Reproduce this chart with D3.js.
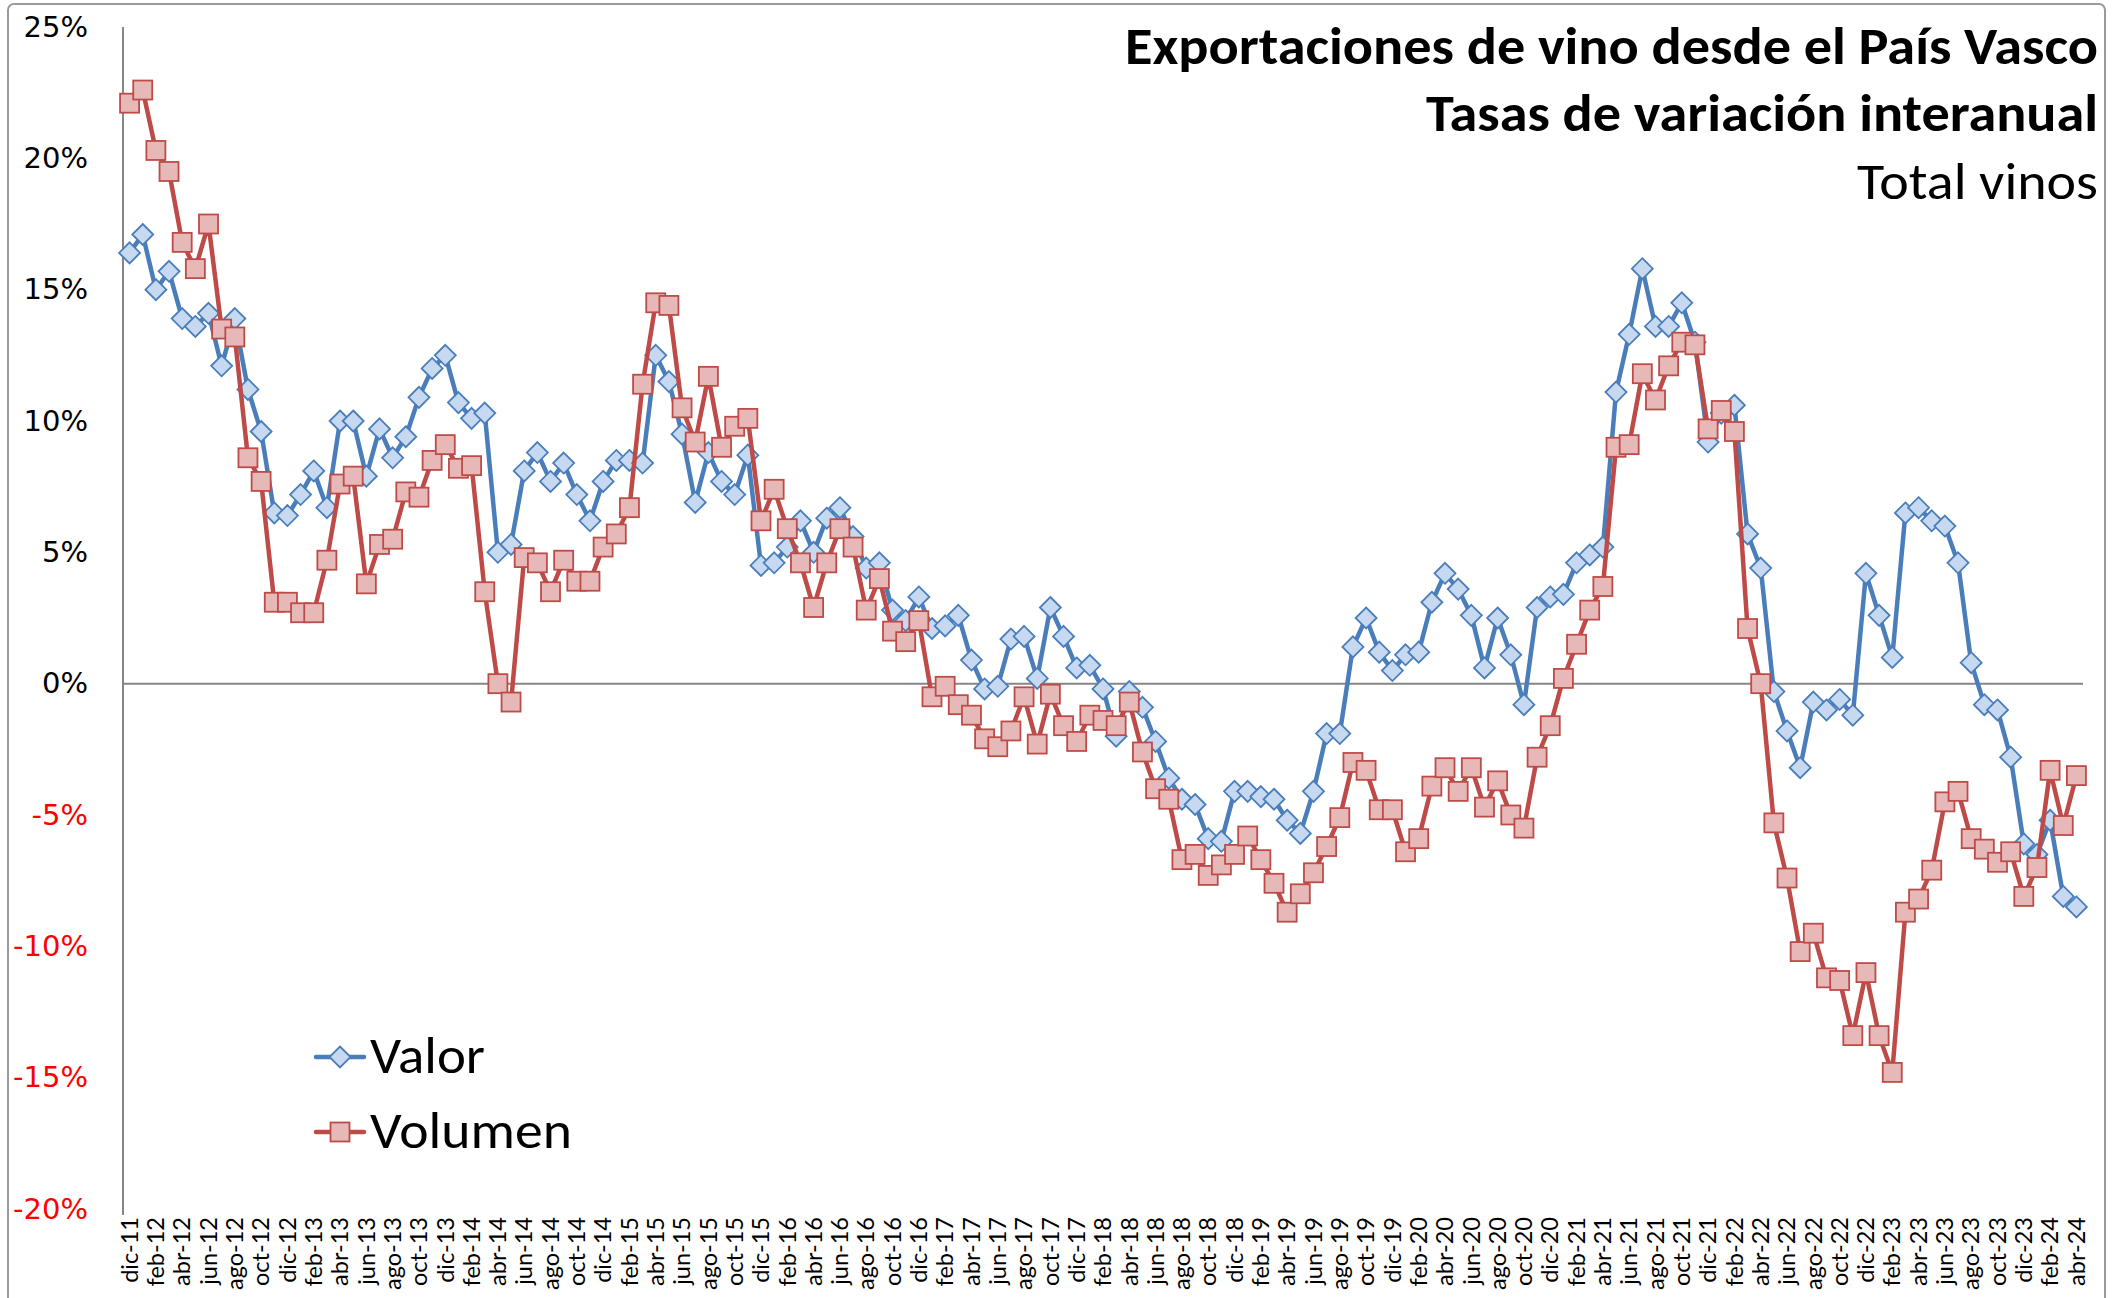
<!DOCTYPE html>
<html>
<head>
<meta charset="utf-8">
<script src="https://cdn.jsdelivr.net/npm/d3@7"></script>
<style>
  body { margin: 0; background: #fff; }
  svg { display: block; }
</style>
</head>
<body>
<div id="chart"></div>
<script>
// meses (desde dic-11 hasta abr-24)
var mesesNombre = ["ene","feb","mar","abr","may","jun","jul","ago","sep","oct","nov","dic"];
var anioInicio = 2011, mesInicio = 11, nMeses = 149;

var yTicks = [-20, -15, -10, -5, 0, 5, 10, 15, 20, 25];

// tasas de variación interanual (%)
var valor = [
  16.4, 17.1, 15.0, 15.7, 13.9, 13.6, 14.1, 12.1, 13.9, 11.2, 9.6, 6.5,
  6.4, 7.2, 8.1, 6.7, 10.0, 10.0, 7.9, 9.7, 8.6, 9.4, 10.9, 12.0,
  12.5, 10.7, 10.1, 10.3, 5.0, 5.3, 8.1, 8.8, 7.7, 8.4, 7.2, 6.2,
  7.7, 8.5, 8.5, 8.4, 12.5, 11.5, 9.5, 6.9, 8.8, 7.7, 7.2, 8.7,
  4.5, 4.6, 5.2, 6.2, 5.0, 6.3, 6.7, 5.6, 4.4, 4.6, 2.8, 2.4,
  3.3, 2.1, 2.2, 2.6, 0.9, -0.2, -0.1, 1.7, 1.8, 0.2, 2.9, 1.8,
  0.6, 0.7, -0.2, -2.0, -0.3, -0.9, -2.2, -3.6, -4.4, -4.6, -5.9, -6.0,
  -4.1, -4.1, -4.3, -4.4, -5.2, -5.7, -4.1, -1.9, -1.9, 1.4, 2.5, 1.2,
  0.5, 1.1, 1.2, 3.1, 4.2, 3.6, 2.6, 0.6, 2.5, 1.1, -0.8, 2.9,
  3.3, 3.4, 4.6, 4.9, 5.2, 11.1, 13.3, 15.8, 13.6, 13.6, 14.5, 13.0,
  9.2, 10.3, 10.6, 5.7, 4.4, -0.3, -1.8, -3.2, -0.7, -1.0, -0.6, -1.2,
  4.2, 2.6, 1.0, 6.5, 6.7, 6.2, 6.0, 4.6, 0.8, -0.8, -1.0, -2.8,
  -6.1, -6.5, -5.2, -8.1, -8.5
];

var volumen = [
  22.1, 22.6, 20.3, 19.5, 16.8, 15.8, 17.5, 13.5, 13.2, 8.6, 7.7, 3.1,
  3.1, 2.7, 2.7, 4.7, 7.6, 7.9, 3.8, 5.3, 5.5, 7.3, 7.1, 8.5,
  9.1, 8.2, 8.3, 3.5, 0.0, -0.7, 4.8, 4.6, 3.5, 4.7, 3.9, 3.9,
  5.2, 5.7, 6.7, 11.4, 14.5, 14.4, 10.5, 9.2, 11.7, 9.0, 9.8, 10.1,
  6.2, 7.4, 5.9, 4.6, 2.9, 4.6, 5.9, 5.2, 2.8, 4.0, 2.0, 1.6,
  2.4, -0.5, -0.1, -0.8, -1.2, -2.1, -2.4, -1.8, -0.5, -2.3, -0.4, -1.6,
  -2.2, -1.2, -1.4, -1.6, -0.7, -2.6, -4.0, -4.4, -6.7, -6.5, -7.3, -6.9,
  -6.5, -5.8, -6.7, -7.6, -8.7, -8.0, -7.2, -6.2, -5.1, -3.0, -3.3, -4.8,
  -4.8, -6.4, -5.9, -3.9, -3.2, -4.1, -3.2, -4.7, -3.7, -5.0, -5.5, -2.8,
  -1.6, 0.2, 1.5, 2.8, 3.7, 9.0, 9.1, 11.8, 10.8, 12.1, 13.0, 12.9,
  9.7, 10.4, 9.6, 2.1, 0.0, -5.3, -7.4, -10.2, -9.5, -11.2, -11.3, -13.4,
  -11.0, -13.4, -14.8, -8.7, -8.2, -7.1, -4.5, -4.1, -5.9, -6.3, -6.8, -6.4,
  -8.1, -7.0, -3.3, -5.4, -3.5
];

var titulo = ["Exportaciones de vino desde el País Vasco", "Tasas de variación interanual", "Total vinos"];

// categorías tipo "dic-11"
var categorias = [];
for (var i = 0; i < nMeses; i++) {
  var m = (mesInicio + i) % 12;
  var a = anioInicio + Math.floor((mesInicio + i) / 12);
  categorias.push(mesesNombre[m] + "-" + String(a).slice(2));
}

var W = 2125, H = 1298;
var plot = {left: 123, right: 2083, top: 27, bottom: 1209};

var svg = d3.select("#chart").append("svg")
    .attr("width", W)
    .attr("height", H);

// marco del gráfico
svg.append("rect")
    .attr("x", 8).attr("y", 4)
    .attr("width", 2097).attr("height", 1320)
    .attr("rx", 6)
    .attr("fill", "#fff")
    .attr("stroke", "#9a9a9a")
    .attr("stroke-width", 2);

var x = d3.scaleBand()
    .domain(d3.range(nMeses))
    .range([plot.left, plot.right]);
var cx = function(i) { return x(i) + x.bandwidth() / 2; };

var y = d3.scaleLinear()
    .domain([-20, 25])
    .range([plot.bottom, plot.top]);

// eje Y
var yAxis = svg.append("g")
    .attr("transform", "translate(" + plot.left + ",0)")
    .call(d3.axisLeft(y).tickValues(yTicks).tickSize(0).tickPadding(35)
      .tickFormat(function(d) { return d + "%"; }));
yAxis.select(".domain").remove();
yAxis.selectAll("text")
    .attr("font-family", "'DejaVu Sans', Verdana, sans-serif")
    .attr("font-size", 29)
    .attr("fill", function(d) { return d < 0 ? "#ff0000" : "#000"; });

svg.append("line")
    .attr("x1", plot.left).attr("x2", plot.left)
    .attr("y1", plot.top).attr("y2", plot.bottom + 6)
    .attr("stroke", "#868686").attr("stroke-width", 2);

// linea del cero
svg.append("line")
    .attr("x1", plot.left).attr("x2", plot.right)
    .attr("y1", y(0)).attr("y2", y(0))
    .attr("stroke", "#868686").attr("stroke-width", 2);

// eje X (etiquetas cada dos meses)
var xAxis = svg.append("g")
    .attr("transform", "translate(0," + plot.bottom + ")")
    .call(d3.axisBottom(x)
      .tickValues(d3.range(0, nMeses, 2))
      .tickSize(0)
      .tickFormat(function(i) { return categorias[i]; }));
xAxis.select(".domain").remove();
xAxis.selectAll("text")
    .attr("font-family", "Lato, 'Open Sans', sans-serif")
    .attr("font-size", 23.5)
    .attr("fill", "#000")
    .attr("text-anchor", "end")
    .attr("transform", "rotate(-90)")
    .attr("x", -8)
    .attr("y", 0)
    .attr("dy", "0.35em");

var series = [
  {name: "Valor", data: valor, line: "#4a7ebb", fill: "#c6d9f1", shape: "diamond"},
  {name: "Volumen", data: volumen, line: "#be4b48", fill: "#e6b9b8", shape: "square"}
];

var lineGen = d3.line()
    .x(function(d, i) { return cx(i); })
    .y(function(d) { return y(d); });

function marker(sel, s) {
  if (s.shape === "diamond") {
    sel.append("path")
      .attr("d", "M0,-10.5L10.5,0L0,10.5L-10.5,0Z");
  } else {
    sel.append("rect")
      .attr("x", -9.5).attr("y", -9.5)
      .attr("width", 19).attr("height", 19);
  }
  sel.selectAll("path,rect")
    .attr("fill", s.fill)
    .attr("stroke", s.line)
    .attr("stroke-width", 1.8);
}

series.forEach(function(s) {
  svg.append("path")
    .datum(s.data)
    .attr("fill", "none")
    .attr("stroke", s.line)
    .attr("stroke-width", 4.5)
    .attr("stroke-linejoin", "round")
    .attr("d", lineGen);

  svg.selectAll(".pt-" + s.name)
    .data(s.data)
    .enter()
    .append("g")
      .attr("class", "pt-" + s.name)
      .attr("transform", function(d, i) { return "translate(" + cx(i) + "," + y(d) + ")"; })
      .each(function() { marker(d3.select(this), s); });
});

// titulo
var titleFont = "Calibri, Carlito, Lato, 'Open Sans', sans-serif";
var titleRows = [
  {text: titulo[0], y: 64, w: 973, weight: "bold"},
  {text: titulo[1], y: 131, w: 672, weight: "bold"},
  {text: titulo[2], y: 199, w: 241, weight: "normal"}
];
titleRows.forEach(function(r) {
  svg.append("text")
    .attr("x", 2098).attr("y", r.y)
    .attr("text-anchor", "end")
    .attr("font-family", titleFont)
    .attr("font-size", 52)
    .attr("font-weight", r.weight)
    .attr("textLength", r.w)
    .attr("lengthAdjust", "spacingAndGlyphs")
    .text(r.text);
});

// leyenda
var legend = [
  {s: series[0], y: 1057, w: 115},
  {s: series[1], y: 1132, w: 202}
];
legend.forEach(function(l) {
  var g = svg.append("g");
  g.append("line")
    .attr("x1", 316).attr("x2", 364)
    .attr("y1", l.y).attr("y2", l.y)
    .attr("stroke", l.s.line).attr("stroke-width", 4.5)
    .attr("stroke-linecap", "round");
  var mk = g.append("g").attr("transform", "translate(340," + l.y + ")");
  marker(mk, l.s);
  g.append("text")
    .attr("x", 370).attr("y", l.y + 16)
    .attr("font-family", titleFont)
    .attr("font-size", 52)
    .attr("textLength", l.w)
    .attr("lengthAdjust", "spacingAndGlyphs")
    .text(l.s.name);
});
</script>
</body>
</html>
